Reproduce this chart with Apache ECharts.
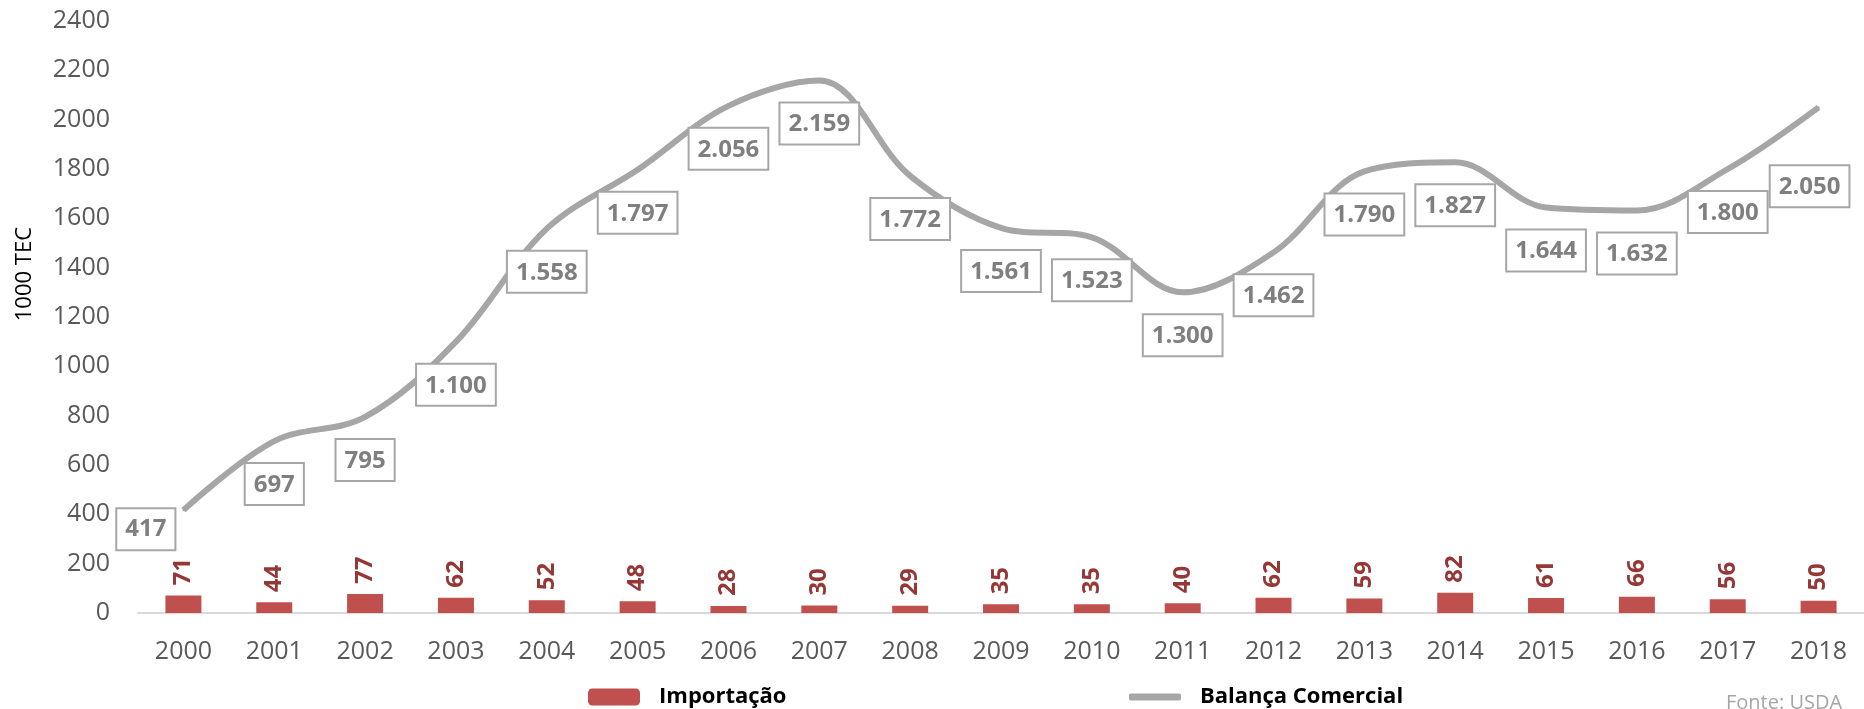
<!DOCTYPE html>
<html>
<head>
<meta charset="utf-8">
<script src="https://cdn.jsdelivr.net/npm/echarts@6/dist/echarts.min.js"></script>
<style>
  html, body { margin: 0; padding: 0; background: #fff; }
  #chart { width: 1864px; height: 709px; }
</style>
</head>
<body>
<div id="chart"></div>
<script>
// anos
const years = ['2000', '2001', '2002', '2003', '2004', '2005', '2006', '2007', '2008', '2009',
  '2010', '2011', '2012', '2013', '2014', '2015', '2016', '2017', '2018'];
// importação (1000 TEC)
const importacao = [71, 44, 77, 62, 52, 48, 28, 30, 29, 35, 35, 40, 62, 59, 82, 61, 66, 56, 50];
// balança comercial (1000 TEC)
const balanca = [417, 697, 795, 1100, 1558, 1797, 2056, 2159, 1772, 1561,
  1523, 1300, 1462, 1790, 1827, 1644, 1632, 1800, 2050];
const yTicks = { min: 0, max: 2400, step: 200 };

const font = '"Open Sans", "DejaVu Sans", sans-serif';

// 1.797 -> formato pt-BR
const fmt = v => v >= 1000 ? Math.floor(v / 1000) + '.' + String(v % 1000).padStart(3, '0') : String(v);

// primeiro rótulo fica à esquerda e abaixo do ponto, o último mais abaixo, como no original
const balancaData = balanca.map((v, i) => i === 0
  ? { value: v, label: { position: [-8, 20], align: 'right', verticalAlign: 'middle' } }
  : i === balanca.length - 1
    ? { value: v, label: { position: [-8, 60], align: 'center', verticalAlign: 'top' } }
    : v);

const chart = echarts.init(document.getElementById('chart'));

const option = {
  backgroundColor: '#fff',
  textStyle: { fontFamily: font },
  animation: false,
  grid: { left: 138, top: 21, bottom: 96, width: 1735, containLabel: false },
  legend: [
    {
      data: ['Importação'],
      left: 583, top: 681,
      itemWidth: 52, itemHeight: 17,
      textStyle: { fontFamily: font, fontSize: 22, fontWeight: 'bold', color: '#000', padding: [0, 0, 0, 14] }
    },
    {
      data: [{ name: 'Balança Comercial', icon: 'roundRect', itemStyle: { color: '#A6A6A6', opacity: 1 } }],
      left: 1124, top: 681,
      itemWidth: 52, itemHeight: 7,
      textStyle: { fontFamily: font, fontSize: 22, fontWeight: 'bold', color: '#000', padding: [0, 0, 0, 14] }
    }
  ],
  graphic: [
    {
      type: 'text', left: 14, top: 227, rotation: Math.PI / 2,
      style: { text: '1000 TEC', font: '22px ' + font, fill: '#000' }
    },
    {
      type: 'text', left: 1726, top: 693,
      style: { text: 'Fonte: USDA', font: '20px ' + font, fill: '#A6A6A6' }
    }
  ],
  xAxis: {
    type: 'category',
    data: years,
    axisLine: { show: true, lineStyle: { color: '#D9D9D9', width: 2 } },
    axisTick: { show: false },
    axisLabel: { color: '#595959', fontSize: 25, margin: 26, fontFamily: font }
  },
  yAxis: {
    type: 'value',
    min: yTicks.min, max: yTicks.max, interval: yTicks.step,
    axisLine: { show: false },
    axisTick: { show: false },
    splitLine: { show: false },
    axisLabel: { color: '#595959', fontSize: 25, margin: 28, fontFamily: font, formatter: v => String(v) }
  },
  series: [
    {
      name: 'Importação',
      type: 'bar',
      data: importacao,
      barWidth: 36,
      itemStyle: { color: '#C0504D' },
      label: {
        show: true, position: 'top', rotate: 90, distance: 10,
        align: 'left', verticalAlign: 'middle',
        color: '#953735', fontWeight: 'bold', fontSize: 24, fontFamily: font
      }
    },
    {
      name: 'Balança Comercial',
      type: 'line',
      data: balancaData,
      smooth: 0.35,
      showSymbol: true,
      symbol: 'circle',
      symbolSize: 2,
      lineStyle: { color: '#A6A6A6', width: 6 },
      itemStyle: { color: '#A6A6A6' },
      z: 5,
      label: {
        show: true, position: 'bottom', distance: 22,
        formatter: p => fmt(p.value),
        color: '#7F7F7F', fontWeight: 'bold', fontSize: 24, fontFamily: font,
        backgroundColor: '#fff', borderColor: '#A6A6A6', borderWidth: 2,
        padding: [8, 8, 6, 8], lineHeight: 26
      }
    }
  ]
};

chart.setOption(option);
</script>
</body>
</html>
